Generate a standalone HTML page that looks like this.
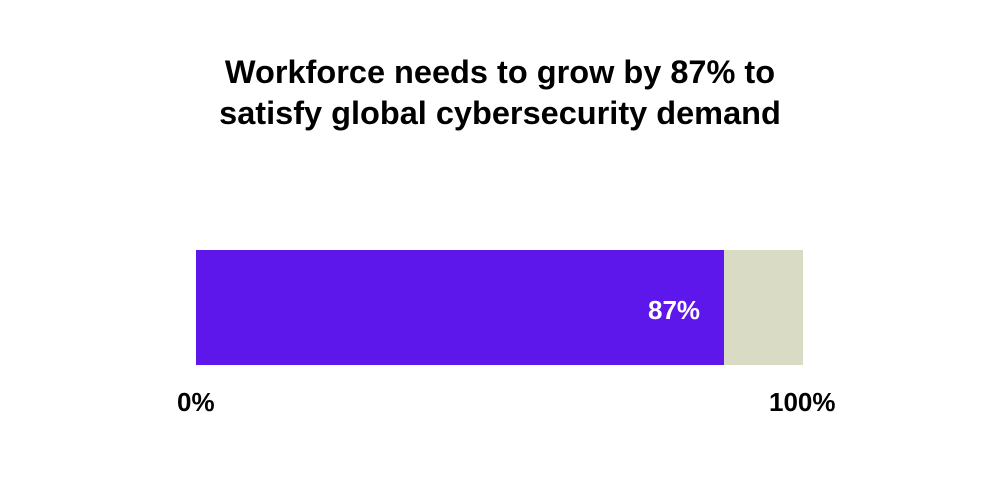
<!DOCTYPE html>
<html><head><style>
body{margin:0;width:1000px;height:500px;background:#fff;font-family:"Liberation Sans",sans-serif;position:relative;overflow:hidden}
.t{position:absolute;left:0;width:1000px;text-align:center;font-weight:bold;font-size:32.5px;color:#000;line-height:40px}
.b{position:absolute}
.l{position:absolute;font-weight:bold;font-size:26px;color:#000}
</style></head><body>
<div class="t" style="top:52px">Workforce needs to grow by 87% to</div>
<div class="t" style="top:93px">satisfy global cybersecurity demand</div>
<div class="b" style="left:196px;top:250px;width:528px;height:115px;background:#5e17eb"></div>
<div class="b" style="left:724px;top:250px;width:79px;height:115px;background:#d9dbc5"></div>
<div class="l" style="left:648px;top:295px;color:#fff">87%</div>
<div class="l" style="left:177px;top:387px">0%</div>
<div class="l" style="left:769px;top:387px">100%</div>
</body></html>
